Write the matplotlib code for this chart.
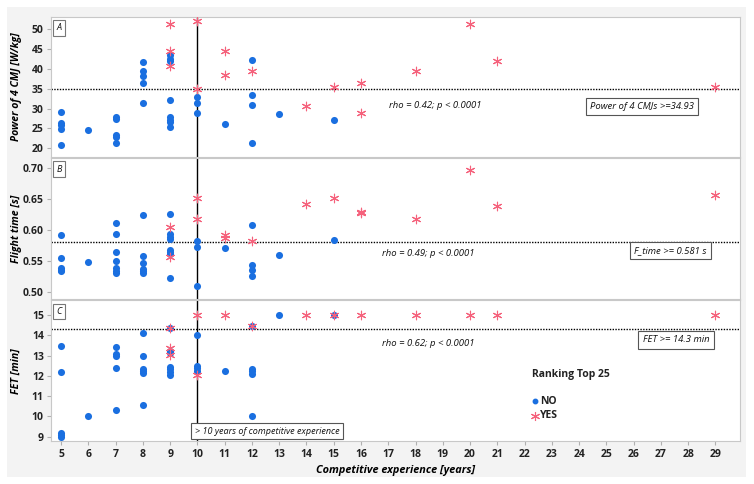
import matplotlib
matplotlib.use("Agg")
import matplotlib.pyplot as plt
from matplotlib.patches import Rectangle

# ---------------- data ----------------
# Panel A: Power of 4 CMJ [W/kg]
a_no_x = [5, 5, 5, 5, 5, 6, 7, 7, 7, 7, 7, 8, 8, 8, 8, 8,
          9, 9, 9, 9, 9, 9, 9, 9, 10, 10, 10, 11, 12, 12, 12, 12, 13, 15]
a_no_y = [29.1, 26.3, 25.8, 24.8, 20.8, 24.6, 27.8, 27.4, 23.3, 22.8, 21.3,
          41.8, 39.5, 38.1, 36.4, 31.5,
          43.4, 42.6, 41.9, 32.2, 27.8, 27.2, 26.5, 25.4,
          33.0, 31.3, 29.0, 26.1, 42.2, 33.4, 31.0, 21.4, 28.6, 27.1]
a_yes_x = [9, 9, 9, 10, 10, 11, 11, 12, 14, 15, 16, 16, 18, 20, 21, 29]
a_yes_y = [51.4, 44.6, 40.8, 52.1, 35.0, 44.6, 38.4, 39.5, 30.6, 35.4,
           36.5, 28.8, 39.6, 51.3, 42.1, 35.4]

# Panel B: Flight time [s]
b_no_x = [5, 5, 5, 5, 5, 6, 7, 7, 7, 7, 7, 7, 7, 8, 8, 8, 8, 8, 8,
          9, 9, 9, 9, 9, 9, 9, 9, 10, 10, 10, 11, 12, 12, 12, 12, 13, 15]
b_no_y = [0.591, 0.555, 0.539, 0.536, 0.533, 0.548,
          0.611, 0.594, 0.564, 0.549, 0.538, 0.534, 0.531,
          0.624, 0.558, 0.546, 0.537, 0.534, 0.530,
          0.625, 0.594, 0.589, 0.585, 0.568, 0.564, 0.561, 0.522,
          0.582, 0.572, 0.510, 0.570, 0.608, 0.544, 0.536, 0.526, 0.559, 0.584]
b_yes_x = [9, 9, 10, 10, 11, 11, 12, 14, 15, 16, 16, 18, 20, 21, 29]
b_yes_y = [0.605, 0.557, 0.652, 0.618, 0.592, 0.587, 0.582, 0.642, 0.651,
           0.627, 0.629, 0.618, 0.697, 0.638, 0.656]

# Panel C: FET [min]
c_no_x = [5, 5, 5, 5, 5, 6, 7, 7, 7, 7, 7, 8, 8, 8, 8, 8, 8,
          9, 9, 9, 9, 9, 9, 9, 10, 10, 10, 10, 11, 12, 12, 12, 12, 12, 13, 15]
c_no_y = [13.46, 12.21, 9.19, 9.10, 9.01, 10.04,
          13.43, 13.08, 13.00, 12.41, 10.30,
          14.10, 13.00, 12.34, 12.26, 12.16, 10.56,
          14.35, 13.22, 13.10, 12.44, 12.32, 12.21, 12.02,
          14.01, 12.49, 12.37, 12.26, 12.23,
          14.43, 12.36, 12.23, 12.11, 10.03, 15.0, 15.0]
c_yes_x = [9, 9, 9, 10, 10, 11, 12, 14, 15, 16, 18, 20, 21, 29]
c_yes_y = [14.35, 13.37, 13.03, 15.0, 12.02, 15.0, 14.43, 15.0, 15.0, 15.0,
           15.0, 15.0, 15.0, 15.0]

thresholds = [34.93, 0.581, 14.3]
rho_texts = ["rho = 0.42; p < 0.0001", "rho = 0.49; p < 0.0001", "rho = 0.62; p < 0.0001"]
box_texts = ["Power of 4 CMJs >=34.93", "F_time >= 0.581 s", "FET >= 14.3 min"]
panel_tags = ["A", "B", "C"]
ylabels = ["Power of 4 CMJ [W/kg]", "Flight time [s]", "FET [min]"]
yticks = [[20, 25, 30, 35, 40, 45, 50],
          [0.50, 0.55, 0.60, 0.65, 0.70],
          [9, 10, 11, 12, 13, 14, 15]]
ytick_labels = [[str(v) for v in yticks[0]],
                ["%.2f" % v for v in yticks[1]],
                [str(v) for v in yticks[2]]]
ylims = [(17.8, 53.1), (0.488, 0.716), (8.79, 15.72)]
xticks = list(range(5, 30))
cutoff_years = 10

# ---------------- styling ----------------
FONT = "Open Sans"
plt.rcParams['font.family'] = [FONT, 'DejaVu Sans']
BLUE = "#1a6fe0"
RED = "#f5627c"
W, H = 754, 484

fig = plt.figure(figsize=(W / 100, H / 100), dpi=100)
fig.patch.set_facecolor("white")
bg = Rectangle((7 / W, 1 - 477 / H), (746 - 7) / W, (477 - 7) / H,
               transform=fig.transFigure, facecolor="#f3f3f3",
               edgecolor="none", zorder=-10)
fig.patches.append(bg)

left, right = 50.7, 740
panels_px = [(17, 157), (158, 299.3), (300.3, 441)]

data = [(a_no_x, a_no_y, a_yes_x, a_yes_y),
        (b_no_x, b_no_y, b_yes_x, b_yes_y),
        (c_no_x, c_no_y, c_yes_x, c_yes_y)]

rho_pos = [(389, 105), (382, 253), (382, 344)]
box_pos = [(642, 106.7), (670.5, 250.5), (676, 340)]

axes = []
for i, (top, bot) in enumerate(panels_px):
    ax = fig.add_axes([left / W, 1 - bot / H, (right - left) / W, (bot - top) / H])
    ax.set_zorder(1)
    axes.append(ax)
    ax.set_facecolor("white")
    nx, ny, yx, yy = data[i]
    ax.scatter(nx, ny, s=26, color=BLUE, marker="o", linewidths=0, zorder=3)
    ax.scatter(yx, yy, s=38, color=RED, marker=(6, 2, 0), linewidths=0.8, zorder=4)
    ax.axhline(thresholds[i], color="black", linestyle=(0, (1, 1)), linewidth=1.0, zorder=2)
    ax.axvline(cutoff_years, color="black", linewidth=1.0, zorder=2)
    ax.set_xlim(4.62, 29.9)
    ax.set_ylim(*ylims[i])
    ax.set_yticks(yticks[i])
    ax.set_yticklabels(ytick_labels[i], fontsize=7.5, fontweight="bold", color="#222222")
    ax.set_xticks(xticks)
    if i < 2:
        ax.tick_params(axis="x", labelbottom=False, length=0)
    else:
        ax.set_xticklabels([str(v) for v in xticks], fontsize=7.5, fontweight="bold",
                           color="#222222")
        ax.tick_params(axis="x", length=3, color="#b0b0b0", pad=3)
    ax.tick_params(axis="y", length=3, color="#b0b0b0", pad=2)
    for sp in ax.spines.values():
        sp.set_color("#c8c8c8")
        sp.set_linewidth(0.8)
    ax.set_ylabel(ylabels[i], fontsize=7.6, fontweight="bold", fontstyle="italic")
    ax.yaxis.set_label_coords(-29 / (right - left), 0.5)
    # annotations in pixel coords
    x0, y0 = rho_pos[i]
    fig.text(x0 / W, 1 - y0 / H, rho_texts[i], fontsize=6.8, fontstyle="italic",
             ha="left", va="center", color="#111111", zorder=5)
    bx, by = box_pos[i]
    fig.text(bx / W, 1 - by / H, box_texts[i], fontsize=6.8, fontstyle="italic",
             ha="center", va="center", color="#111111", zorder=5,
             bbox=dict(boxstyle="square,pad=0.45", facecolor="white",
                       edgecolor="#555555", linewidth=0.8))
    fig.text(59 / W, 1 - (top + 11) / H, panel_tags[i], fontsize=6.5, fontstyle="italic",
             ha="center", va="center", color="#111111", zorder=5,
             bbox=dict(boxstyle="square,pad=0.35", facecolor="white",
                       edgecolor="#777777", linewidth=0.8))

# cutoff annotation
fig.text(267 / W, 1 - 431 / H, "> 10 years of competitive experience", fontsize=6.5,
         fontstyle="italic", ha="center", va="center", color="#111111", zorder=5,
         bbox=dict(boxstyle="square,pad=0.4", facecolor="white",
                   edgecolor="#555555", linewidth=0.8))

axes[2].set_xlabel("Competitive experience [years]", fontsize=7.8, fontweight="bold",
                   fontstyle="italic", labelpad=3)

# legend
fig.text(532 / W, 1 - 375 / H, "Ranking Top 25", fontsize=7.5, fontweight="bold",
         ha="left", va="center", color="#222222", zorder=5)
fig.text(540 / W, 1 - 401 / H, "NO", fontsize=7.5, fontweight="bold",
         ha="left", va="center", color="#222222", zorder=5)
fig.text(540 / W, 1 - 416 / H, "YES", fontsize=7.5, fontweight="bold",
         ha="left", va="center", color="#222222", zorder=5)
fig.add_artist(plt.Line2D([534.5 / W], [1 - 401 / H], marker="o", markersize=3.2,
                          color=BLUE, linestyle="none", transform=fig.transFigure,
                          zorder=5))
fig.add_artist(plt.Line2D([534.5 / W], [1 - 416 / H], marker=(6, 2, 0), markersize=6.5,
                          color=RED, markeredgewidth=0.8, linestyle="none",
                          transform=fig.transFigure, zorder=5))

fig.savefig("out.png", dpi=100)
